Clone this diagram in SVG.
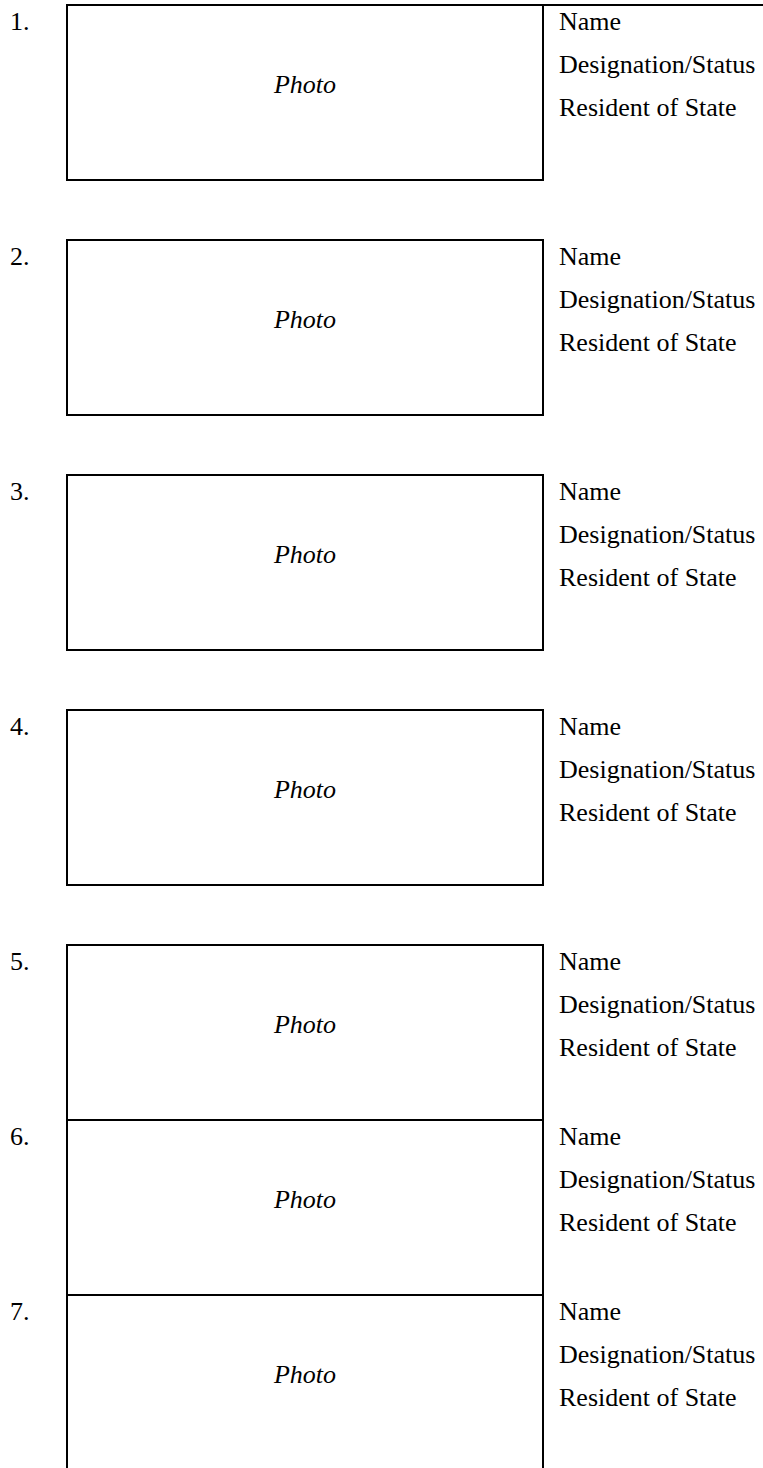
<svg xmlns="http://www.w3.org/2000/svg" width="763" height="1468" viewBox="0 0 763 1468">
<style>
.box{fill:none;stroke:#000;stroke-width:2}
.t{font-family:"Liberation Serif","Times New Roman",serif;font-size:26px;fill:#000}
.p{font-family:"Liberation Serif","Times New Roman",serif;font-size:26px;font-style:italic;fill:#000;text-anchor:middle}
</style>
<rect width="763" height="1468" fill="#fff"/>
<g id="connectors"><line x1="543" y1="5" x2="763" y2="5" stroke="#000" stroke-width="2"/></g>
<g id="n1"><text class="t" x="10" y="30">1.</text><rect class="box" x="67" y="5" width="476" height="175"/><text class="p" x="305" y="93">Photo</text><text class="t" x="559" y="30">Name</text><text class="t" x="559" y="73">Designation/Status</text><text class="t" x="559" y="116">Resident of State</text></g>
<g id="n2"><text class="t" x="10" y="265">2.</text><rect class="box" x="67" y="240" width="476" height="175"/><text class="p" x="305" y="328">Photo</text><text class="t" x="559" y="265">Name</text><text class="t" x="559" y="308">Designation/Status</text><text class="t" x="559" y="351">Resident of State</text></g>
<g id="n3"><text class="t" x="10" y="500">3.</text><rect class="box" x="67" y="475" width="476" height="175"/><text class="p" x="305" y="563">Photo</text><text class="t" x="559" y="500">Name</text><text class="t" x="559" y="543">Designation/Status</text><text class="t" x="559" y="586">Resident of State</text></g>
<g id="n4"><text class="t" x="10" y="735">4.</text><rect class="box" x="67" y="710" width="476" height="175"/><text class="p" x="305" y="798">Photo</text><text class="t" x="559" y="735">Name</text><text class="t" x="559" y="778">Designation/Status</text><text class="t" x="559" y="821">Resident of State</text></g>
<g id="n5"><text class="t" x="10" y="970">5.</text><rect class="box" x="67" y="945" width="476" height="175"/><text class="p" x="305" y="1033">Photo</text><text class="t" x="559" y="970">Name</text><text class="t" x="559" y="1013">Designation/Status</text><text class="t" x="559" y="1056">Resident of State</text></g>
<g id="n6"><text class="t" x="10" y="1145">6.</text><rect class="box" x="67" y="1120" width="476" height="175"/><text class="p" x="305" y="1208">Photo</text><text class="t" x="559" y="1145">Name</text><text class="t" x="559" y="1188">Designation/Status</text><text class="t" x="559" y="1231">Resident of State</text></g>
<g id="n7"><text class="t" x="10" y="1320">7.</text><rect class="box" x="67" y="1295" width="476" height="175"/><text class="p" x="305" y="1383">Photo</text><text class="t" x="559" y="1320">Name</text><text class="t" x="559" y="1363">Designation/Status</text><text class="t" x="559" y="1406">Resident of State</text></g>
</svg>
